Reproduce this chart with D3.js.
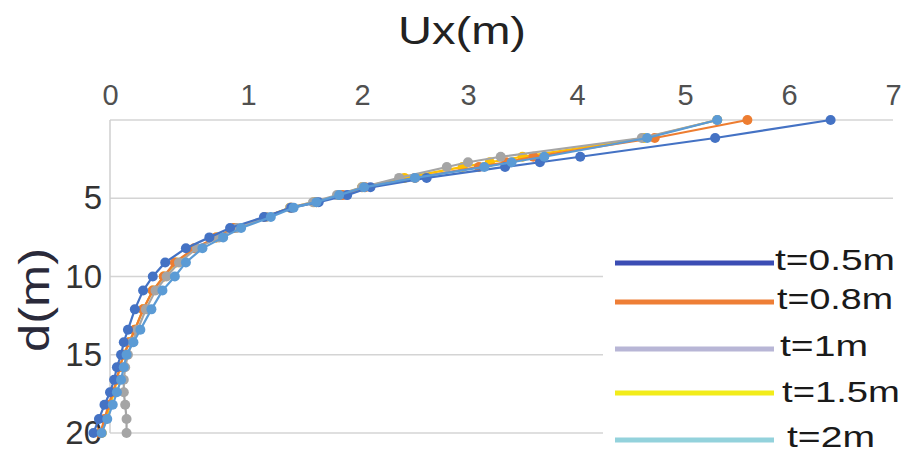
<!DOCTYPE html>
<html><head><meta charset="utf-8">
<script src="https://cdn.jsdelivr.net/npm/d3@7/dist/d3.min.js"></script>
<style>html,body{margin:0;padding:0;background:#fff;} svg{display:block;}</style>
</head><body><svg id="c" width="908" height="452"></svg>
<script>
// ---- data ----
const depths = [0, 1.15, 2.35, 2.7, 3.0, 3.7, 4.3, 4.8, 5.25, 5.6, 6.2, 6.9, 7.5, 8.2, 9.1, 10, 10.9, 12.1, 13.4, 14.2, 15, 15.8, 16.6, 17.4, 18.2, 19.1, 20];
const ux05 = [6.4, 5.29, 4.03, 3.66, 3.34, 2.61, 2.08, 1.87, 1.62, 1.38, 1.14, 0.87, 0.72, 0.55, 0.4, 0.31, 0.24, 0.18, 0.13, 0.1, 0.08, 0.05, 0.03, 0.0, -0.04, -0.08, -0.12];
const ux08 = [5.6, 4.72, 3.6, 3.35, 3.1, 2.5, 2.03, 1.83, 1.6, 1.38, 1.15, 0.9, 0.77, 0.61, 0.47, 0.39, 0.31, 0.24, 0.18, 0.14, 0.1, 0.07, 0.05, 0.02, -0.01, -0.04, -0.07];
const ux1  = [5.31, 4.6, 3.3, 3.0, 2.8, 2.35, 2.0, 1.78, 1.57, 1.37, 1.16, 0.92, 0.79, 0.63, 0.5, 0.41, 0.33, 0.26, 0.2, 0.16, 0.13, 0.11, 0.1, 0.1, 0.11, 0.12, 0.12];
const ux15 = [5.31, 4.62, 3.5, 3.2, 2.95, 2.4, 2.0, 1.8, 1.58, 1.37, 1.15, 0.9, 0.77, 0.62, 0.48, 0.39, 0.31, 0.24, 0.18, 0.14, 0.1, 0.07, 0.05, 0.03, 0.0, -0.03, -0.06];
const ux2  = [5.31, 4.65, 3.7, 3.4, 3.15, 2.5, 2.02, 1.8, 1.6, 1.4, 1.2, 0.95, 0.82, 0.67, 0.55, 0.47, 0.38, 0.3, 0.22, 0.17, 0.12, 0.1, 0.08, 0.05, 0.02, -0.02, -0.06];
const seriesNames = ["t=0.5m", "t=0.8m", "t=1m", "t=1.5m", "t=2m"];
const xTicks = [0, 1, 2, 3, 4, 5, 6, 7];
const yTicks = [5, 10, 15, 20];
const gridDepths = [0, 5, 10, 15, 20];

// ---- styles ----
const lineColors = ["#4472C4", "#ED7D31", "#A5A5A5", "#FFC000", "#5B9BD5"];
const legendColors = ["#3B4DB4", "#EE7E36", "#B8B6D6", "#F2EC1A", "#93D2DC"];
const seriesValues = [ux05, ux08, ux1, ux15, ux2];
const drawOrder = [3, 1, 2, 0, 4];

const svg = d3.select("#c");
const x = d3.scaleLinear().domain(xTicks).range([110, 248, 362, 468, 577, 685, 789, 893]);
const y = d3.scaleLinear().domain([0, 20]).range([120, 433]);

// gridlines
svg.append("g").selectAll("line").data(gridDepths).join("line")
  .attr("x1", x(0)).attr("x2", x(7))
  .attr("y1", d => y(d)).attr("y2", d => y(d))
  .attr("stroke", "#d4d4d4").attr("stroke-width", 1.5);
svg.append("line").attr("x1", x(0)).attr("x2", x(0)).attr("y1", y(0)).attr("y2", y(20))
  .attr("stroke", "#cfcfcf").attr("stroke-width", 1.5);

// axes
const xa = svg.append("g").attr("transform", `translate(0,${y(0)})`)
  .call(d3.axisTop(x).tickValues(xTicks).tickSize(0).tickPadding(15).tickFormat(d3.format("d")));
xa.select(".domain").remove();
xa.selectAll("text").attr("font-family", "Liberation Sans, Arial, sans-serif").attr("font-size", 29).attr("fill", "#505050");

const ya = svg.append("g").attr("transform", `translate(${x(0)},0)`)
  .call(d3.axisLeft(y).tickValues(yTicks).tickSize(0).tickPadding(8).tickFormat(d3.format("d")));
ya.select(".domain").remove();
ya.selectAll("text").attr("font-family", "Liberation Sans, Arial, sans-serif").attr("font-size", 33).attr("fill", "#333");

// series
const line = d3.line().x(d => x(d[0])).y(d => y(d[1]));
drawOrder.forEach(i => {
  const pts = seriesValues[i].map((v, k) => [v, depths[k]]);
  const g = svg.append("g");
  g.append("path").attr("d", line(pts)).attr("fill", "none")
    .attr("stroke", lineColors[i]).attr("stroke-width", 2.2);
  g.selectAll("circle").data(pts).join("circle")
    .attr("cx", d => x(d[0])).attr("cy", d => y(d[1])).attr("r", 5)
    .attr("fill", lineColors[i]);
});

// titles
svg.append("text").attr("x", 462).attr("y", 44).attr("text-anchor", "middle")
  .attr("font-family", "Liberation Sans, Arial, sans-serif").attr("font-size", 38)
  .attr("fill", "#222").attr("textLength", 128).attr("lengthAdjust", "spacingAndGlyphs").text("Ux(m)");
svg.append("text").attr("transform", "translate(49,300) rotate(-90)").attr("text-anchor", "middle")
  .attr("font-family", "Liberation Sans, Arial, sans-serif").attr("font-size", 42)
  .attr("fill", "#2a2a3a").attr("textLength", 104).attr("lengthAdjust", "spacingAndGlyphs").text("d(m)");

// legend
svg.append("rect").attr("x", 603).attr("y", 243).attr("width", 305).attr("height", 209).attr("fill", "#fff");
const legY = [263, 302, 349, 393, 440];
const legTextX = [775, 777, 780, 782, 787];
const legTextY = [270, 309, 356, 402, 447];
const legTextW = [120, 116, 88, 118, 88];
seriesNames.forEach((n, i) => {
  svg.append("line").attr("x1", 615).attr("x2", 774).attr("y1", legY[i]).attr("y2", legY[i])
    .attr("stroke", legendColors[i]).attr("stroke-width", 5);
  svg.append("text").attr("x", legTextX[i]).attr("y", legTextY[i])
    .attr("font-family", "Liberation Sans, Arial, sans-serif").attr("font-size", 30)
    .attr("fill", "#1a1a1a").attr("textLength", legTextW[i]).attr("lengthAdjust", "spacingAndGlyphs").text(n);
});
</script></body></html>
